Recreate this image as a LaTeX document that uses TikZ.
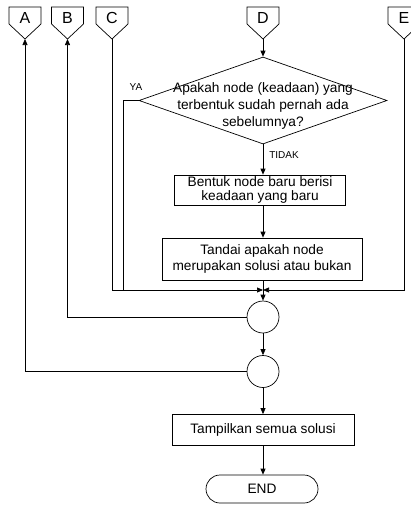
\documentclass[tikz,border=0pt]{standalone}
\usepackage{fontspec}
\setmainfont{Liberation Sans}
\usetikzlibrary{arrows.meta,shapes.geometric,shapes.misc,positioning}

\begin{document}
\begin{tikzpicture}[x=1pt,y=-1pt,
  line width=0.7pt,
  every node/.style={font=\fontsize{13.7}{16.8}\selectfont, inner sep=0pt},
  proc/.style={draw, fill=white, align=center},
  small/.style={font=\fontsize{10}{12}\selectfont},
  letter/.style={font=\fontsize{16}{18}\selectfont},
  flow/.style={-{Triangle[length=6pt,width=5pt]}},
  joint/.style={draw, circle, minimum size=32pt}]
\useasboundingbox (0,0) rectangle (411,506);

% off-page connectors: pentagon pointing down, tip coordinate below
\newcommand{\offpage}[3]{%
  \draw (#2-16,7) -- (#2+16,7) -- (#2+16,24) -- (#2,39) -- (#2-16,24) -- cycle;
  \node (#1) [letter] at (#2,18) {#3};
  \coordinate (#1-tip) at (#2,39);}
\offpage{A}{25}{A}
\offpage{B}{67.5}{B}
\offpage{C}{112}{C}
\offpage{D}{263}{D}
\offpage{E}{404}{E}

% decision
\node (dec) [draw, diamond, minimum width=248pt, minimum height=87pt] at (263,100.5) {};
\node (dectext) [align=center] at (263,106) {Apakah node (keadaan) yang\\terbentuk sudah pernah ada\\sebelumnya?};
\node (ya) [small] at (136,87) {YA};

% process boxes
\node (new) [proc, minimum width=171pt, minimum height=30pt, font=\fontsize{13.7}{14.2}\selectfont] at (260,190) {Bentuk node baru berisi\\keadaan yang baru};
\node (mark) [proc, minimum width=200pt, minimum height=42pt] at (262,259) {Tandai apakah node\\merupakan solusi atau bukan};
\coordinate (merge) at (263,290);
\node (j1) [joint] at (263,317) {};
\node (j2) [joint] at (263,371.5) {};
\node (show) [proc, minimum width=182pt, minimum height=31pt] at (263,430) {Tampilkan semua solusi};
\node (end) [draw, rounded rectangle, minimum width=112pt, minimum height=28pt] at (262,489) {END};

% main flow
\draw[flow] (D-tip) -- (dec.north);
\draw[flow] (dec.south) -- node[small, right=6pt, pos=0.35] (tidak) {TIDAK} (new.north -| dec.south);
\draw[flow] (new.south -| dec.south) -- (mark.north -| dec.south);
\draw (mark.south -| merge) -- (merge);
\draw[flow] (merge) -- (j1);
\draw[flow] (j1) -- (j2);
\draw[flow] (j2) -- (show.north -| j2);
\draw[flow] (show.south -| j2) -- (end.north -| j2);

% branches into the merge point
\draw (dec.west) -- (123,100.5) -- (123,290);
\draw[flow] (C-tip) |- (merge);
\draw[flow] (E-tip) |- (merge);

% loops back to the connectors
\draw[flow] (j1.west) -| (B-tip);
\draw[flow] (j2.west) -| (A-tip);
\end{tikzpicture}
\end{document}
